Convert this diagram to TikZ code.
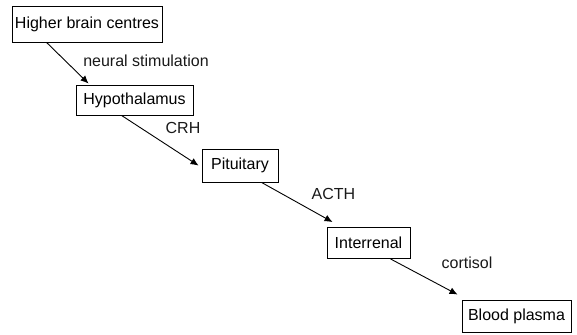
\documentclass[tikz,border=0pt]{standalone}
\usepackage{fontspec}
\setmainfont{Liberation Sans}
\usetikzlibrary{arrows.meta}
\begin{document}
\begin{tikzpicture}[x=1pt,y=-1pt,
  font=\fontsize{16}{19}\selectfont,
  box/.style={draw=black,line width=0.9pt,inner sep=0pt,fill=white},
  arr/.style={draw=black,line width=0.9pt,-{Latex[length=8pt,width=7pt]}},
  lbl/.style={inner sep=0pt,text=black!90}]
\useasboundingbox (0,0) rectangle (577,334);
\node[box,minimum width=150pt,minimum height=36pt] (b1) at (87,24) {Higher brain centres};
\node[box,minimum width=117pt,minimum height=30pt] (b2) at (134.5,100) {Hypothalamus};
\node[box,minimum width=76pt,minimum height=33pt] (b3) at (240,165.5) {Pituitary};
\node[box,minimum width=83pt,minimum height=31pt] (b4) at (368.5,243) {Interrenal};
\node[box,minimum width=109pt,minimum height=32pt] (b5) at (516.5,316) {Blood plasma};
\draw[arr] ([xshift=35pt]b1.south west) -- ([xshift=13pt,yshift=1pt]b2.north west);
\draw[arr] ([xshift=46pt]b2.south west) -- ([xshift=-3pt,yshift=-17pt]b3.north west);
\draw[arr] ([xshift=60pt]b3.south west) -- ([xshift=6pt,yshift=5pt]b4.north west);
\draw[arr] ([xshift=64pt]b4.south west) -- ([xshift=-4pt,yshift=5pt]b5.north west);
\node[lbl] (l1) at (146,61) {neural stimulation};
\node[lbl] (l2) at (183,128) {CRH};
\node[lbl] (l3) at (333.5,194) {ACTH};
\node[lbl] (l4) at (467,263) {cortisol};
\end{tikzpicture}
\end{document}
